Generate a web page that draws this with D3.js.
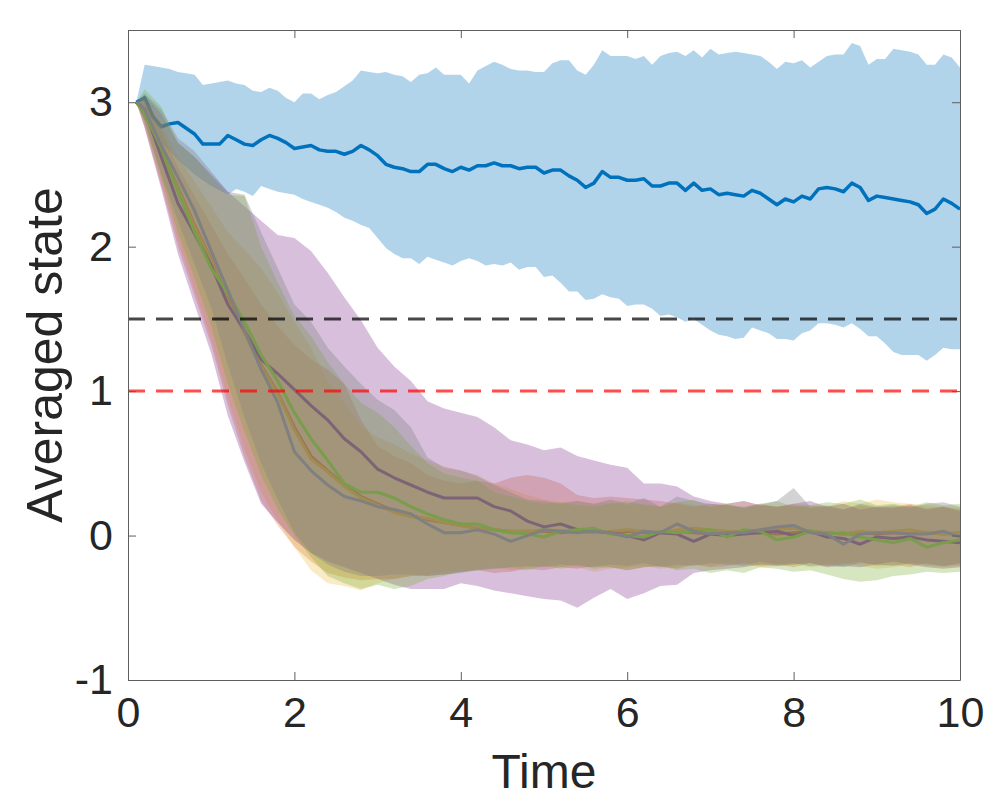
<!DOCTYPE html>
<html lang="en">
<head>
<meta charset="utf-8">
<title>Averaged state</title>
<script src="https://d3js.org/d3.v7.min.js"></script>
<style>
    body { margin: 0; background: #fff; }
    svg text { font-family: "Liberation Sans", Arial, Helvetica, sans-serif; fill: #262626; }
    .axis path, .axis line { stroke: #5e5e5e; stroke-width: 1; }
</style>
</head>
<body>
<div id="chart"></div>
<script>
// ---- data ----
var xTicks = [0, 2, 4, 6, 8, 10];
var yTicks = [-1, 0, 1, 2, 3];
var thresholds = [1.5, 1.0];

// blue run, sampled every 0.1 from t = 0.1 to 10
var blueMean = [3.00,3.03,2.90,2.83,2.85,2.86,2.82,2.78,2.71,2.71,2.71,2.77,2.74,2.71,2.70,2.74,2.77,2.75,2.72,2.68,
    2.69,2.70,2.67,2.66,2.66,2.64,2.66,2.70,2.67,2.63,2.57,2.55,2.54,2.52,2.52,2.57,2.57,2.54,2.52,2.55,
    2.53,2.56,2.56,2.58,2.56,2.56,2.54,2.55,2.55,2.51,2.53,2.53,2.49,2.46,2.41,2.44,2.52,2.48,2.48,2.46,
    2.46,2.47,2.42,2.42,2.44,2.44,2.39,2.44,2.39,2.40,2.36,2.37,2.36,2.35,2.39,2.37,2.33,2.29,2.33,2.31,
    2.35,2.33,2.40,2.41,2.40,2.38,2.44,2.41,2.32,2.35,2.34,2.33,2.32,2.31,2.29,2.23,2.26,2.33,2.30,2.26];
var blueUpper = [3.00,3.26,3.25,3.24,3.23,3.21,3.20,3.19,3.12,3.13,3.14,3.15,3.13,3.12,3.08,3.07,3.10,3.08,3.03,3.00,
    3.06,3.06,3.02,3.05,3.07,3.11,3.15,3.22,3.21,3.20,3.21,3.19,3.18,3.14,3.19,3.20,3.24,3.19,3.19,3.19,
    3.13,3.22,3.25,3.28,3.26,3.23,3.22,3.22,3.21,3.21,3.27,3.29,3.29,3.22,3.19,3.26,3.36,3.32,3.32,3.32,
    3.30,3.32,3.26,3.32,3.34,3.35,3.32,3.36,3.31,3.37,3.33,3.34,3.35,3.34,3.33,3.32,3.28,3.23,3.28,3.27,
    3.29,3.24,3.28,3.32,3.33,3.33,3.41,3.39,3.26,3.30,3.30,3.37,3.36,3.35,3.33,3.26,3.26,3.33,3.31,3.24];
var blueLower = [3.00,2.88,2.80,2.72,2.66,2.60,2.55,2.50,2.46,2.42,2.39,2.36,2.40,2.38,2.35,2.42,2.40,2.38,2.37,2.36,
    2.33,2.31,2.29,2.27,2.24,2.20,2.18,2.15,2.13,2.06,1.99,1.95,1.92,1.92,1.88,1.93,1.91,1.89,1.87,1.90,
    1.92,1.90,1.87,1.88,1.87,1.89,1.84,1.86,1.86,1.79,1.80,1.75,1.69,1.69,1.63,1.64,1.67,1.65,1.64,1.59,
    1.60,1.60,1.57,1.52,1.53,1.51,1.48,1.50,1.46,1.42,1.39,1.38,1.36,1.37,1.44,1.42,1.40,1.36,1.36,1.35,
    1.40,1.42,1.47,1.47,1.46,1.44,1.47,1.43,1.38,1.38,1.33,1.27,1.25,1.25,1.25,1.21,1.25,1.30,1.29,1.29];

// other five runs, sampled at t = 0.1, then every 0.2 from 0.2 to 10
var redMean = [3.00,2.93,2.66,2.41,2.15,1.91,1.64,1.41,1.18,0.99,0.75,0.55,0.45,0.35,0.27,0.22,0.17,0.14,0.11,0.09,
    0.07,0.05,0.04,0.03,0.03,0.03,0.02,0.03,0.03,0.02,0.03,0.02,0.02,0.03,0.02,0.01,0.02,0.03,0.02,0.01,
    0.02,0.03,0.02,0.01,0.02,0.01,0.02,0.01,0.02,0.01,0.02];
var redUpper = [3.00,3.00,2.80,2.55,2.35,2.15,1.95,1.78,1.60,1.45,1.32,1.22,1.15,1.05,0.80,0.62,0.55,0.50,0.42,0.38,
    0.36,0.38,0.36,0.40,0.42,0.40,0.36,0.28,0.26,0.27,0.26,0.25,0.24,0.22,0.20,0.22,0.21,0.19,0.22,0.20,
    0.21,0.19,0.20,0.18,0.21,0.19,0.20,0.22,0.19,0.20,0.18];
var redLower = [3.00,2.83,2.42,2.00,1.66,1.32,0.90,0.54,0.24,0.07,-0.08,-0.18,-0.26,-0.29,-0.31,-0.30,-0.30,-0.28,-0.28,-0.27,
    -0.25,-0.24,-0.26,-0.25,-0.23,-0.24,-0.22,-0.23,-0.21,-0.22,-0.24,-0.22,-0.21,-0.23,-0.20,-0.22,-0.21,-0.19,-0.21,-0.20,
    -0.22,-0.19,-0.21,-0.20,-0.18,-0.21,-0.20,-0.22,-0.19,-0.21,-0.20];

var yellowMean = [3.00,2.93,2.65,2.40,2.14,1.90,1.62,1.40,1.17,0.98,0.73,0.53,0.44,0.34,0.26,0.21,0.16,0.13,0.12,0.09,
    0.07,0.05,0.04,0.03,0.03,0.04,0.03,0.03,0.02,0.03,0.04,0.03,0.02,0.04,0.05,0.04,0.03,0.02,0.03,0.04,
    0.05,0.03,0.02,0.01,0.03,0.02,0.03,0.04,0.02,0.01,0.02];
var yellowUpper = [3.00,3.02,2.85,2.62,2.45,2.28,2.10,1.98,1.85,1.68,1.48,1.30,1.07,0.92,0.76,0.68,0.63,0.57,0.52,0.48,
    0.45,0.42,0.36,0.32,0.28,0.25,0.23,0.24,0.22,0.23,0.21,0.22,0.20,0.23,0.21,0.20,0.22,0.24,0.21,0.20,
    0.22,0.21,0.20,0.24,0.22,0.25,0.23,0.22,0.21,0.20,0.19];
var yellowLower = [3.00,2.84,2.45,2.05,1.70,1.36,0.95,0.60,0.30,0.10,-0.08,-0.24,-0.33,-0.35,-0.38,-0.33,-0.30,-0.28,-0.27,-0.25,
    -0.25,-0.23,-0.22,-0.24,-0.22,-0.21,-0.23,-0.22,-0.25,-0.23,-0.22,-0.21,-0.23,-0.22,-0.20,-0.21,-0.19,-0.20,-0.22,-0.21,
    -0.20,-0.22,-0.21,-0.19,-0.21,-0.23,-0.22,-0.20,-0.21,-0.22,-0.21];

var purpleMean = [3.00,2.95,2.62,2.30,2.09,1.87,1.60,1.42,1.22,1.12,1.01,0.90,0.80,0.67,0.58,0.46,0.40,0.35,0.30,0.26,
    0.26,0.26,0.20,0.17,0.10,0.06,0.08,0.04,0.03,0.02,0.00,-0.03,0.02,0.01,-0.04,0.01,0.00,0.01,0.02,0.03,
    0.00,0.03,-0.01,-0.02,-0.06,-0.01,-0.02,-0.01,-0.03,-0.04,-0.05];
var purpleUpper = [3.00,3.05,2.92,2.72,2.62,2.50,2.38,2.28,2.18,2.08,2.06,1.97,1.82,1.65,1.49,1.30,1.17,1.07,0.93,0.88,
    0.85,0.82,0.75,0.66,0.63,0.59,0.61,0.55,0.52,0.49,0.47,0.36,0.36,0.34,0.27,0.24,0.22,0.24,0.21,0.20,
    0.22,0.24,0.20,0.22,0.18,0.20,0.19,0.21,0.18,0.20,0.17];
var purpleLower = [3.00,2.82,2.40,1.95,1.60,1.26,0.83,0.51,0.22,0.09,-0.03,-0.12,-0.18,-0.22,-0.26,-0.30,-0.34,-0.37,-0.37,-0.37,
    -0.33,-0.35,-0.38,-0.40,-0.42,-0.44,-0.45,-0.50,-0.43,-0.37,-0.44,-0.40,-0.35,-0.34,-0.26,-0.24,-0.23,-0.22,-0.20,-0.21,
    -0.20,-0.19,-0.22,-0.21,-0.22,-0.20,-0.18,-0.20,-0.22,-0.23,-0.22];

var greenMean = [3.00,2.92,2.68,2.38,2.10,1.85,1.68,1.48,1.25,1.07,0.85,0.67,0.52,0.36,0.30,0.30,0.26,0.20,0.15,0.11,
    0.08,0.08,0.04,0.02,0.01,-0.01,0.03,0.04,0.05,0.01,0.00,-0.01,0.03,0.02,0.03,0.04,-0.01,0.04,0.03,-0.03,
    -0.01,0.03,0.01,0.02,-0.01,-0.03,-0.05,-0.02,-0.08,-0.05,-0.03];
var greenUpper = [3.00,3.09,2.97,2.72,2.62,2.48,2.36,2.35,2.00,1.75,1.52,1.38,1.20,1.05,0.92,0.85,0.75,0.62,0.50,0.43,
    0.40,0.38,0.30,0.27,0.24,0.22,0.23,0.21,0.20,0.22,0.24,0.21,0.20,0.23,0.25,0.20,0.22,0.19,0.21,0.24,
    0.20,0.21,0.23,0.22,0.25,0.21,0.22,0.20,0.23,0.21,0.22];
var greenLower = [3.00,2.86,2.48,2.10,1.78,1.45,1.05,0.72,0.42,0.18,0.00,-0.15,-0.28,-0.33,-0.37,-0.34,-0.37,-0.35,-0.30,-0.28,
    -0.25,-0.24,-0.23,-0.22,-0.24,-0.21,-0.22,-0.20,-0.23,-0.22,-0.24,-0.22,-0.21,-0.24,-0.23,-0.26,-0.24,-0.26,-0.22,-0.23,
    -0.25,-0.24,-0.27,-0.30,-0.32,-0.31,-0.28,-0.27,-0.25,-0.26,-0.25];

var grayMean = [3.00,2.95,2.70,2.48,2.25,1.97,1.70,1.42,1.15,0.92,0.58,0.45,0.35,0.27,0.24,0.20,0.18,0.15,0.08,0.02,
    0.02,0.04,0.01,-0.04,0.00,0.04,0.03,0.02,0.03,0.02,-0.01,0.03,0.02,0.08,0.03,0.01,0.02,0.02,0.04,0.06,
    0.07,0.02,0.01,-0.06,0.01,0.02,0.02,0.01,0.01,0.03,-0.01];
var grayUpper = [3.00,3.06,2.95,2.75,2.66,2.52,2.38,2.36,2.10,1.85,1.60,1.48,1.30,1.17,1.05,0.94,0.87,0.75,0.54,0.47,
    0.45,0.41,0.35,0.30,0.25,0.24,0.22,0.24,0.22,0.25,0.22,0.26,0.20,0.27,0.24,0.22,0.21,0.20,0.22,0.24,
    0.33,0.20,0.21,0.18,0.22,0.20,0.21,0.19,0.22,0.23,0.20];
var grayLower = [3.00,2.87,2.50,2.18,1.88,1.58,1.18,0.82,0.50,0.25,0.02,-0.12,-0.20,-0.25,-0.28,-0.28,-0.27,-0.27,-0.28,-0.27,
    -0.26,-0.24,-0.23,-0.22,-0.21,-0.22,-0.20,-0.21,-0.22,-0.20,-0.21,-0.19,-0.22,-0.20,-0.21,-0.19,-0.20,-0.21,-0.18,-0.20,
    -0.19,-0.21,-0.20,-0.22,-0.19,-0.20,-0.21,-0.19,-0.20,-0.21,-0.19];

// time grids
var tBlue = d3.range(1, 101).map(function (k) { return k / 10; });
var tRuns = [0.1].concat(d3.range(1, 51).map(function (k) { return k / 5; }));

var series = [
    {t: tBlue, mean: blueMean, upper: blueUpper, lower: blueLower, color: "#0072BD", alpha: 0.3, width: 3.5},
    {t: tRuns, mean: redMean, upper: redUpper, lower: redLower, color: "#D95319", alpha: 0.25, width: 3},
    {t: tRuns, mean: yellowMean, upper: yellowUpper, lower: yellowLower, color: "#EDB120", alpha: 0.25, width: 3},
    {t: tRuns, mean: purpleMean, upper: purpleUpper, lower: purpleLower, color: "#7E2F8E", alpha: 0.3, width: 3},
    {t: tRuns, mean: greenMean, upper: greenUpper, lower: greenLower, color: "#77AC30", alpha: 0.3, width: 3},
    {t: tRuns, mean: grayMean, upper: grayUpper, lower: grayLower, color: "#808080", alpha: 0.35, width: 3}
];

// ---- drawing ----
var width = 990, height = 799;
var svg = d3.select("#chart").append("svg")
    .attr("width", width).attr("height", height);

var x = d3.scaleLinear().domain([0, 10]).range([128, 960]);
var y = d3.scaleLinear().domain([-1, 3.5]).range([680, 30]);

var plot = svg.append("g");

series.forEach(function (s) {
    var pts = s.t.map(function (t, i) {
        return {t: t, m: s.mean[i], hi: s.upper[i], lo: s.lower[i]};
    });
    var area = d3.area()
        .x(function (d) { return x(d.t); })
        .y0(function (d) { return y(d.lo); })
        .y1(function (d) { return y(d.hi); });
    var line = d3.line()
        .x(function (d) { return x(d.t); })
        .y(function (d) { return y(d.m); });

    plot.append("path").datum(pts)
        .attr("d", area)
        .attr("fill", s.color)
        .attr("fill-opacity", s.alpha)
        .attr("stroke", "none");
    plot.append("path").datum(pts)
        .attr("d", line)
        .attr("fill", "none")
        .attr("stroke", s.color)
        .attr("stroke-width", s.width)
        .attr("stroke-linejoin", "round");
});

// threshold lines
var thrColors = ["#000000", "#ff0000"];
var thrOpacity = [0.72, 0.7];
thresholds.forEach(function (v, i) {
    plot.append("line")
        .attr("x1", x(0)).attr("x2", x(10))
        .attr("y1", y(v)).attr("y2", y(v))
        .attr("stroke", thrColors[i])
        .attr("stroke-opacity", thrOpacity[i])
        .attr("stroke-width", 3)
        .attr("stroke-dasharray", "17,11");
});

// axes (box with inward ticks)
var fmt = function (d) { return String(d); };
svg.append("g").attr("class", "axis")
    .attr("transform", "translate(0,680)")
    .call(d3.axisBottom(x).tickValues(xTicks).tickFormat(fmt).tickSizeInner(-8).tickSizeOuter(0).tickPadding(16));
svg.append("g").attr("class", "axis")
    .attr("transform", "translate(0,30)")
    .call(d3.axisTop(x).tickValues(xTicks).tickSizeInner(-8).tickSizeOuter(0).tickFormat(""));
svg.append("g").attr("class", "axis")
    .attr("transform", "translate(128,0)")
    .call(d3.axisLeft(y).tickValues(yTicks).tickFormat(fmt).tickSizeInner(-8).tickSizeOuter(0).tickPadding(15));
svg.append("g").attr("class", "axis")
    .attr("transform", "translate(960,0)")
    .call(d3.axisRight(y).tickValues(yTicks).tickSizeInner(-8).tickSizeOuter(0).tickFormat(""));

svg.selectAll(".axis text")
    .attr("font-size", 43)
    .style("font-family", "'Liberation Sans', Arial, Helvetica, sans-serif")
    .style("fill", "#262626");

// axis labels
svg.append("text")
    .attr("x", 544).attr("y", 788)
    .attr("text-anchor", "middle")
    .attr("font-size", 48)
    .text("Time");

svg.append("text")
    .attr("transform", "translate(62,355) rotate(-90)")
    .attr("text-anchor", "middle")
    .attr("font-size", 50)
    .text("Averaged state");
</script>
</body>
</html>
